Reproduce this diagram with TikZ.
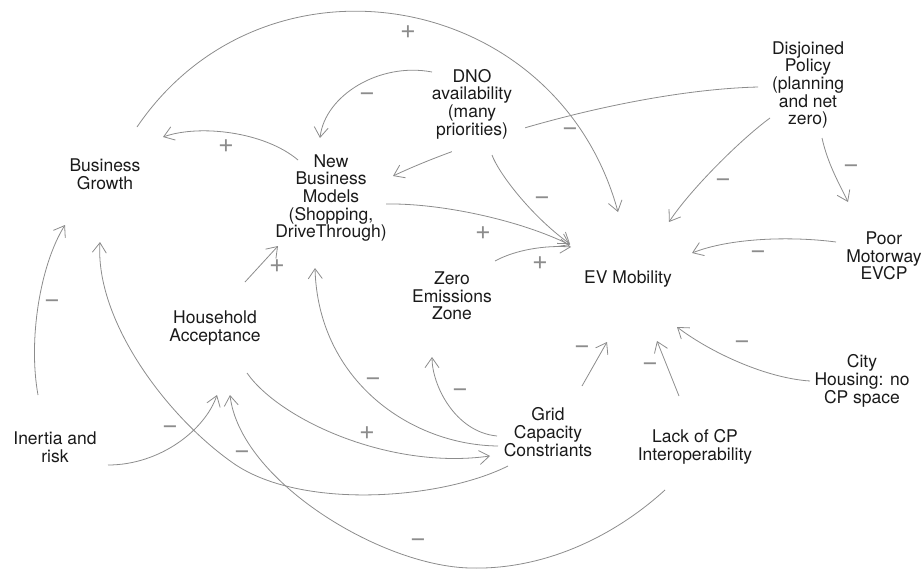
\documentclass[tikz,border=0pt]{standalone}
\usepackage{fontspec}
\setmainfont{TeX Gyre Heros}
\usetikzlibrary{arrows.meta}
\pgfdeclarelayer{back}
\pgfsetlayers{back,main}
\definecolor{linegray}{HTML}{8C8C8C}
\definecolor{txtcol}{HTML}{1A1A1A}
\definecolor{signgray}{HTML}{8C8C8C}
\begin{document}
\begin{tikzpicture}[x=1pt,y=-1pt,
  var/.style={align=center, text=txtcol, font=\fontsize{17.5}{17.7}\selectfont, inner sep=1pt},
  conn/.style={draw=linegray, line width=0.8pt, -{Straight Barb[length=10pt,width=14pt]}},
  sign/.style={text=signgray, font=\fontsize{27}{27}\selectfont, inner sep=0pt}]
\useasboundingbox (0,0) rectangle (924,570);

% variables
\node[var] (bg) at (105,174) {Business\\Growth};
\node[var] (nbm) at (331,198) {New\\Business\\Models\\(Shopping,\\DriveThrough)};
\node[var] (dno) at (472,104) {DNO\\availability\\(many\\priorities)};
\node[var] (dp) at (808,85) {Disjoined\\Policy\\(planning\\and net\\zero)};
\node[var] (pm) at (884,256) {Poor\\Motorway\\EVCP};
\node[var] (ev) at (628,279) {EV Mobility};
\node[var] (zez) at (452,296) {Zero\\Emissions\\Zone};
\node[var] (ha) at (215,328) {Household\\Acceptance};
\node[var] (ch) at (862,381) {City\\Housing: no\\CP space};
\node[var] (ir) at (55,447) {Inertia and\\risk};
\node[var] (gc) at (548,432) {Grid\\Capacity\\Constriants};
\node[var] (lcp) at (695,447) {Lack of CP\\Interoperability};

% connector passing behind the DNO label
\begin{pgfonlayer}{back}
\draw[conn] ([shift={(-50,2)}]dp.center) .. controls (640,90) and (480,135) .. ([shift={(62,-22)}]nbm.center);
\fill[white] ([shift={(-20,1)}]dno.center) rectangle ([shift={(53,61)}]dno.center);
\end{pgfonlayer}

% connectors
\draw[conn] ([shift={(32,-47)}]bg.center) .. controls (265,-61) and (557,-11) .. ([shift={(-10,-67)}]ev.center);
\draw[conn] ([shift={(-33,-38)}]nbm.center) .. controls (265,132) and (200,124) .. ([shift={(58,-37)}]bg.center);
\draw[conn] ([shift={(-40,-32)}]dno.center) .. controls (380,62) and (325,95) .. ([shift={(-11,-60)}]nbm.center);
\draw[conn] ([shift={(20,51)}]dno.center) .. controls (498,172) and (530,215) .. ([shift={(-58,-35)}]ev.center);
\draw[conn] ([shift={(55,6)}]nbm.center) .. controls (440,203) and (520,220) .. ([shift={(-58,-34)}]ev.center);
\draw[conn] ([shift={(43,-35)}]zez.center) .. controls (515,250) and (545,245) .. ([shift={(-57,-32)}]ev.center);
\draw[conn] ([shift={(-38,33)}]dp.center) .. controls (740,140) and (690,190) .. ([shift={(41,-57)}]ev.center);
\draw[conn] ([shift={(14,53)}]dp.center) .. controls (828,165) and (840,185) .. ([shift={(-36,-54)}]pm.center);
\draw[conn] ([shift={(-48,-14)}]pm.center) .. controls (790,236) and (730,238) .. ([shift={(64,-26)}]ev.center);
\draw[conn] ([shift={(-52,0)}]ch.center) .. controls (765,378) and (710,352) .. ([shift={(49,48)}]ev.center);
\draw[conn] ([shift={(-16,-51)}]lcp.center) -- ([shift={(29,62)}]ev.center);
\draw[conn] ([shift={(34,-46)}]gc.center) -- ([shift={(-21,63)}]ev.center);
\draw[conn] ([shift={(-51,4)}]gc.center) .. controls (455,432) and (432,385) .. ([shift={(-20,61)}]zez.center);
\draw[conn] ([shift={(-50,14)}]gc.center) .. controls (410,445) and (318,380) .. ([shift={(-16,70)}]nbm.center);
\draw[conn] ([shift={(32,45)}]ha.center) .. controls (280,420) and (390,470) .. ([shift={(-58,24)}]gc.center);
\draw[conn] ([shift={(-40,34)}]gc.center) .. controls (440,500) and (300,510) .. (233,463) .. controls (166,416) and (95,320) .. ([shift={(-5,68)}]bg.center);
\draw[conn] ([shift={(-30,43)}]lcp.center) .. controls (610,540) and (540,570) .. (470,568) .. controls (380,566) and (240,480) .. ([shift={(15,67)}]ha.center);
\draw[conn] ([shift={(53,18)}]ir.center) .. controls (160,465) and (205,430) .. ([shift={(2,67)}]ha.center);
\draw[conn] ([shift={(-17,-52)}]ir.center) .. controls (28,340) and (40,265) .. ([shift={(-40,51)}]bg.center);
\draw[conn] ([shift={(30,-46)}]ha.center) -- ([shift={(-53,48)}]nbm.center);

% polarity signs
\node[sign] (s1) at (408,32) {+};
\node[sign] (s2) at (226,146) {+};
\node[sign] (s3) at (367,97) {−};
\node[sign] (s4) at (570,132) {−};
\node[sign] (s5) at (542,201) {−};
\node[sign] (s6) at (483,233) {+};
\node[sign] (s7) at (540,263) {+};
\node[sign] (s8) at (723,183) {−};
\node[sign] (s9) at (851,169) {−};
\node[sign] (s10) at (758,255) {−};
\node[sign] (s11) at (742,345) {−};
\node[sign] (s12) at (650,367) {−};
\node[sign] (s13) at (582,350) {−};
\node[sign] (s14) at (460,393) {−};
\node[sign] (s15) at (373,382) {−};
\node[sign] (s16) at (367,433) {+};
\node[sign] (s17) at (418,543) {−};
\node[sign] (s18) at (242,455) {−};
\node[sign] (s19) at (170,430) {−};
\node[sign] (s20) at (52,304) {−};
\node[sign] (s21) at (277,266) {+};
\end{tikzpicture}
\end{document}
